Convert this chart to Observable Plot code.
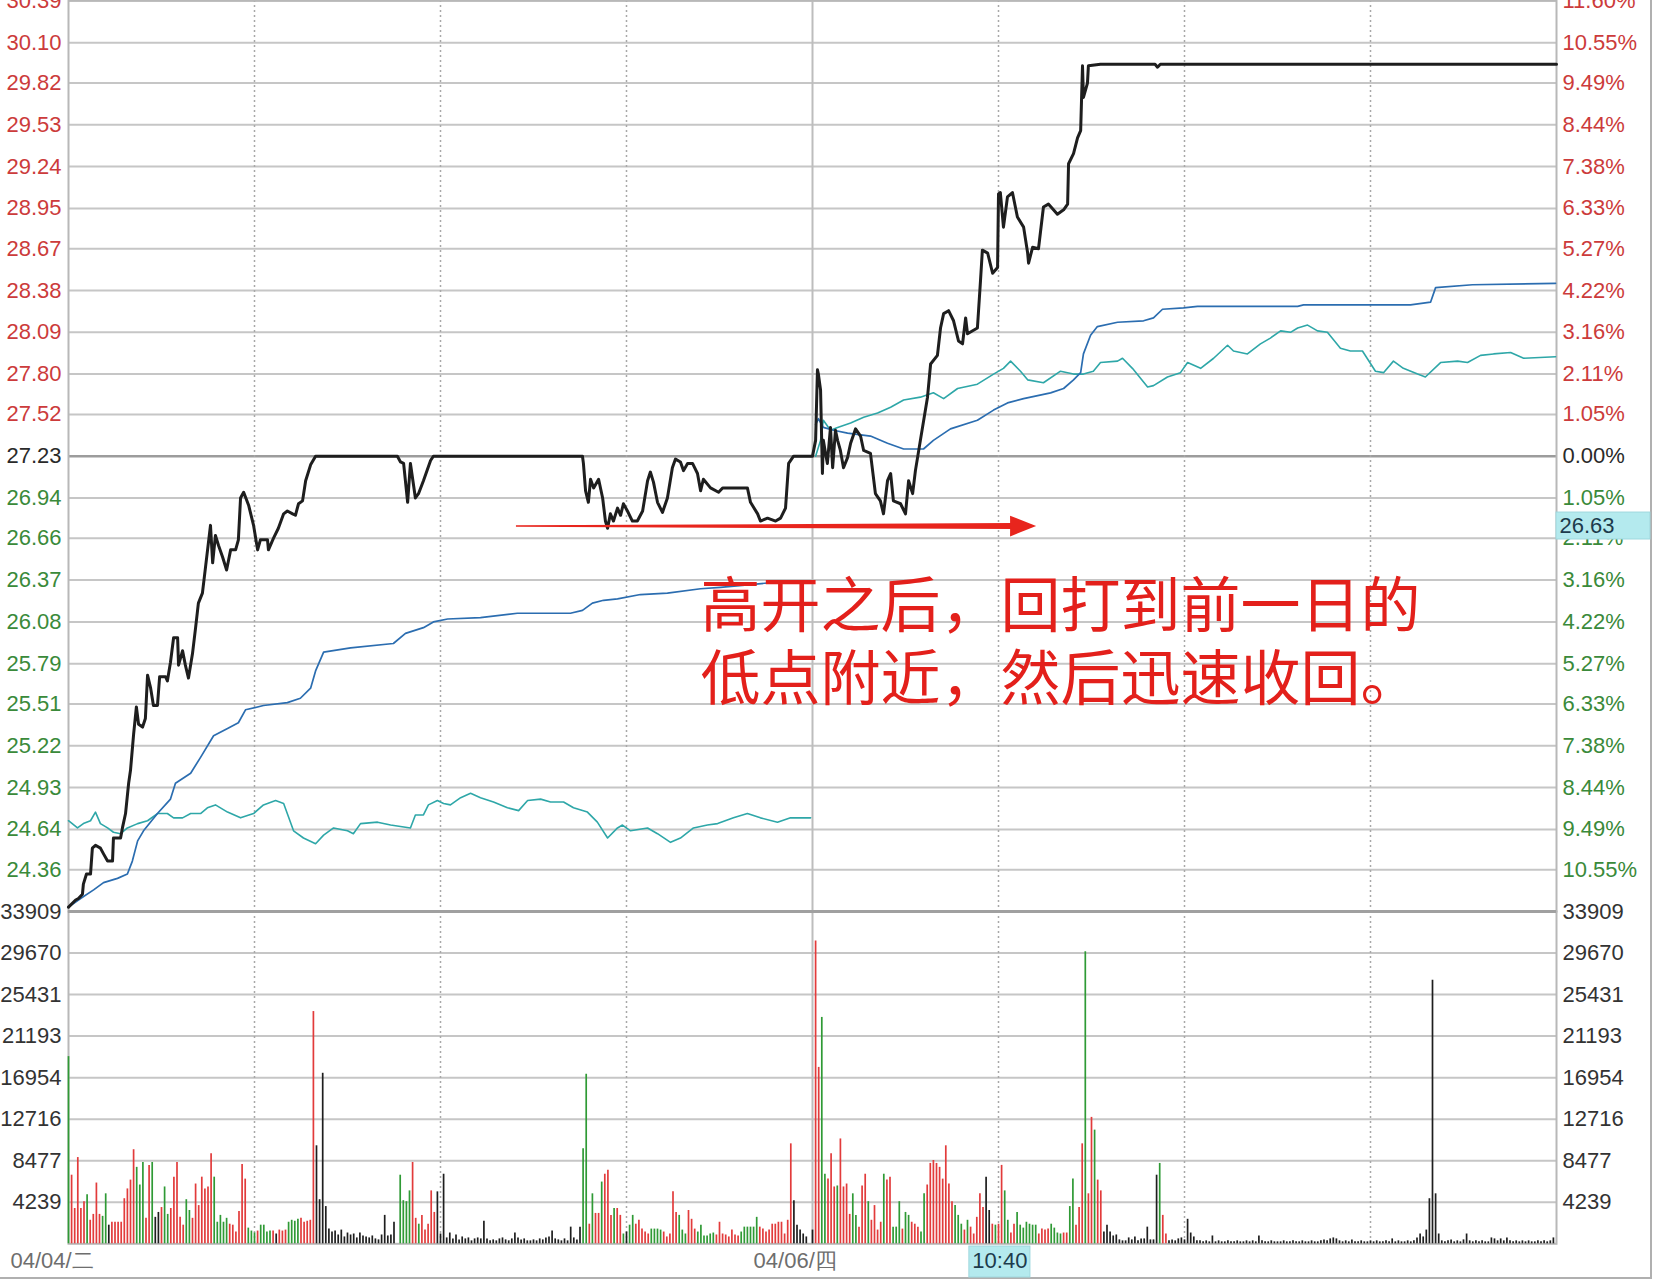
<!DOCTYPE html>
<html><head><meta charset="utf-8">
<script src="https://cdn.jsdelivr.net/npm/d3@7"></script>
<script src="https://cdn.jsdelivr.net/npm/@observablehq/plot@0.6"></script>
<style>
html,body{margin:0;padding:0;background:#fff;overflow:hidden;}
#wrap{position:relative;width:1650px;height:1277px;border-right:2px solid #b0b0b0;border-bottom:2px solid #b0b0b0;}
#wrap svg{position:absolute;left:0;overflow:visible;max-width:none !important;}
</style></head><body><div id="wrap"></div>
<script>
// ---------- DATA ----------
const priceLabels = ["30.39","30.10","29.82","29.53","29.24","28.95","28.67","28.38","28.09","27.80","27.52","27.23","26.94","26.66","26.37","26.08","25.79","25.51","25.22","24.93","24.64","24.36"];
const pctLabels = ["11.60%","10.55%","9.49%","8.44%","7.38%","6.33%","5.27%","4.22%","3.16%","2.11%","1.05%","0.00%","1.05%","2.11%","3.16%","4.22%","5.27%","6.33%","7.38%","8.44%","9.49%","10.55%"];
const volLabels = ["33909","29670","25431","21193","16954","12716","8477","4239"];
const prevClose = 27.23;
const priceMin = 24.07, priceMax = 30.393, volMax = 33909;
const hourTicks = [60,120,180,240,300,360,420];

// minute index (0-480 over two sessions), price
const priceLine = [[0,24.10],[2.3,24.15],[3.2,24.16],[4.5,24.19],[4.8,24.26],[5.8,24.33],[7.1,24.33],[7.7,24.51],[8.7,24.53],[10.3,24.51],[11.3,24.47],[12.6,24.42],[14.2,24.42],[14.5,24.58],[15.8,24.58],[16.8,24.58],[17.4,24.65],[18.4,24.75],[19.4,24.96],[20.0,25.05],[21.0,25.30],[21.9,25.49],[22.6,25.37],[23.9,25.35],[24.8,25.41],[25.5,25.71],[26.5,25.62],[27.4,25.50],[28.7,25.50],[29.4,25.70],[31.3,25.70],[31.9,25.67],[32.9,25.80],[33.9,25.97],[35.2,25.97],[35.5,25.78],[36.8,25.88],[37.7,25.78],[38.7,25.69],[40.0,25.86],[41.0,26.04],[41.9,26.21],[43.2,26.28],[44.2,26.46],[45.8,26.75],[46.5,26.49],[47.4,26.68],[48.4,26.61],[49.7,26.53],[51.0,26.44],[52.3,26.58],[53.9,26.58],[54.8,26.65],[55.5,26.94],[56.5,26.98],[58.1,26.89],[59.7,26.75],[61.0,26.58],[61.9,26.65],[64.2,26.65],[64.5,26.58],[66.1,26.66],[67.7,26.73],[69.4,26.83],[70.6,26.85],[72.3,26.83],[73.2,26.82],[74.2,26.90],[75.5,26.92],[76.5,27.06],[78.1,27.17],[79.7,27.23],[106.1,27.23],[107.1,27.19],[108.1,27.18],[109.4,26.91],[110.3,27.18],[111.9,26.94],[112.9,26.97],[114.5,27.06],[116.8,27.20],[117.7,27.23],[165.8,27.23],[166.1,27.18],[166.8,26.99],[167.7,26.91],[168.4,27.07],[169.4,27.01],[171.0,27.07],[172.3,26.94],[173.2,26.78],[173.9,26.73],[174.8,26.83],[175.8,26.78],[177.1,26.87],[178.1,26.82],[179.0,26.90],[180.3,26.85],[181.9,26.78],[183.5,26.78],[185.2,26.85],[186.8,27.06],[187.7,27.12],[188.7,27.05],[190.0,26.91],[191.6,26.84],[193.2,26.94],[194.8,27.15],[195.8,27.21],[197.4,27.19],[198.4,27.13],[199.7,27.18],[201.3,27.18],[202.9,27.11],[203.9,26.99],[204.8,27.07],[207.1,27.01],[209.7,26.98],[211.0,27.01],[212.9,27.01],[219.0,27.01],[220.0,26.91],[222.3,26.83],[223.2,26.78],[225.5,26.80],[228.1,26.78],[229.7,26.80],[231.3,26.87],[232.3,27.18],[233.9,27.23],[240,27.23],
[241.0,27.34],[241.6,27.83],[241.9,27.80],[242.6,27.69],[243.2,27.11],[243.5,27.34],[244.2,27.25],[244.8,27.18],[245.8,27.43],[246.5,27.15],[247.4,27.41],[248.1,27.34],[249.0,27.27],[250.0,27.15],[251.3,27.22],[252.3,27.32],[253.9,27.42],[255.5,27.37],[256.5,27.27],[258.7,27.25],[260.3,26.97],[261.9,26.92],[262.9,26.83],[264.2,27.06],[265.2,27.11],[266.1,26.92],[268.4,26.90],[270.0,26.83],[271.0,27.06],[272.3,26.97],[273.2,27.13],[274.8,27.34],[277.1,27.64],[278.1,27.87],[280.3,27.93],[281.3,28.12],[282.3,28.22],[283.9,28.24],[285.5,28.17],[287.1,28.03],[288.4,28.01],[289.4,28.19],[290.0,28.08],[293.2,28.12],[294.2,28.45],[294.8,28.66],[296.5,28.64],[298.1,28.50],[299.7,28.54],[300.0,29.05],[300.6,29.06],[301.6,28.82],[302.9,29.03],[304.5,29.06],[306.1,28.89],[308.1,28.82],[309.4,28.64],[309.7,28.57],[311.0,28.68],[312.9,28.67],[314.5,28.96],[316.1,28.98],[319.0,28.91],[321.0,28.94],[322.3,28.98],[322.6,29.26],[324.2,29.33],[325.5,29.44],[326.5,29.49],[327.1,29.94],[327.4,29.72],[328.7,29.82],[329.0,29.94],[332.9,29.95],[350.5,29.95],[351.3,29.93],[352.2,29.95],[480,29.95]];

const avgLine1 = [[0,24.10],[3.9,24.16],[8.1,24.22],[11.3,24.27],[15.8,24.30],[19.0,24.33],[20.6,24.42],[22.3,24.56],[24.2,24.63],[28.7,24.75],[32.9,24.85],[34.5,24.96],[39.4,25.03],[42.6,25.14],[46.8,25.29],[51.3,25.34],[54.8,25.38],[57.1,25.47],[62.9,25.50],[70.6,25.52],[74.8,25.55],[78.1,25.62],[79.7,25.74],[82.3,25.87],[91.0,25.90],[104.8,25.93],[108.7,26.00],[114.5,26.04],[117.7,26.08],[122.3,26.10],[132.9,26.11],[144.8,26.14],[161.9,26.14],[165.8,26.16],[169.0,26.21],[172.6,26.23],[177.1,26.24],[184.5,26.27],[193.2,26.28],[203.9,26.31],[210.3,26.32],[225.5,26.35],[239.4,26.35]];
const avgLine2 = [[241.0,27.45],[241.9,27.49],[243.5,27.43],[246.8,27.41],[251.3,27.39],[258.7,27.37],[264.2,27.32],[269.4,27.28],[275.8,27.28],[279.0,27.34],[284.5,27.42],[293.2,27.48],[298.4,27.55],[302.9,27.60],[308.1,27.63],[316.8,27.67],[321.0,27.70],[324.2,27.76],[326.5,27.81],[327.4,27.94],[329.7,28.07],[331.9,28.13],[338.4,28.16],[346.8,28.17],[350.0,28.19],[352.9,28.25],[359.7,28.26],[364.2,28.27],[396.5,28.27],[398.4,28.28],[432.9,28.28],[439.4,28.30],[441.0,28.40],[452.9,28.42],[479.7,28.43]];

const idxLine1 = [[0,24.70],[2.9,24.65],[4.8,24.68],[7.1,24.70],[8.7,24.76],[10.3,24.68],[12.6,24.65],[14.5,24.62],[16.8,24.61],[19.0,24.65],[22.3,24.68],[25.5,24.70],[28.7,24.75],[31.9,24.75],[33.9,24.72],[36.8,24.72],[39.4,24.75],[42.6,24.75],[44.8,24.79],[47.4,24.81],[51.3,24.76],[55.5,24.72],[59.7,24.75],[62.9,24.81],[66.8,24.84],[69.4,24.82],[72.6,24.63],[75.8,24.58],[79.7,24.54],[82.3,24.60],[85.5,24.65],[90.0,24.63],[91.9,24.61],[94.2,24.68],[99.7,24.69],[103.9,24.67],[110.3,24.65],[111.9,24.74],[114.5,24.74],[116.1,24.81],[119.0,24.84],[121.0,24.82],[123.2,24.81],[126.5,24.86],[129.7,24.89],[132.9,24.86],[137.1,24.83],[141.6,24.79],[145.2,24.77],[148.1,24.84],[152.3,24.85],[155.5,24.83],[159.7,24.83],[162.9,24.79],[167.4,24.76],[170.6,24.69],[173.9,24.58],[177.1,24.65],[178.7,24.67],[181.3,24.63],[186.8,24.65],[190.0,24.61],[194.2,24.55],[197.4,24.58],[201.6,24.65],[206.1,24.67],[209.4,24.68],[214.5,24.72],[219.0,24.75],[223.2,24.72],[228.7,24.69],[232.9,24.72],[239.4,24.72]];
const idxLine2 = [[241.0,27.23],[242.6,27.34],[243.5,27.48],[245.8,27.41],[248.1,27.43],[252.3,27.46],[256.5,27.50],[261.0,27.53],[265.2,27.57],[269.4,27.62],[274.8,27.64],[279.0,27.67],[282.3,27.63],[286.8,27.70],[293.2,27.73],[298.4,27.80],[301.6,27.84],[303.9,27.89],[307.1,27.82],[309.4,27.76],[314.5,27.74],[320.0,27.82],[324.2,27.80],[327.4,27.80],[330.6,27.82],[332.9,27.88],[338.4,27.89],[340.0,27.91],[343.2,27.84],[348.1,27.71],[350.0,27.72],[354.5,27.78],[358.7,27.81],[361.0,27.88],[365.2,27.84],[369.4,27.91],[373.9,28.00],[375.8,27.96],[380.3,27.94],[384.5,28.01],[387.7,28.05],[391.0,28.10],[394.2,28.09],[396.5,28.12],[399.7,28.14],[402.9,28.10],[406.1,28.09],[410.3,27.98],[413.5,27.96],[417.4,27.96],[421.6,27.82],[424.2,27.81],[427.4,27.89],[430.6,27.84],[435.2,27.80],[437.7,27.78],[442.6,27.88],[448.1,27.89],[451.3,27.88],[455.5,27.93],[459.7,27.94],[465.2,27.95],[469.4,27.91],[479.7,27.92]];

// volume bars: [minute, volume, colour code r/g/k]
const volBars = [[0,19100,"g"],[1,7000,"r"],[2,3600,"r"],[3,8800,"r"],[4,3600,"r"],[5,4300,"r"],[6,5000,"g"],[7,2400,"r"],[8,3000,"r"],[9,6200,"r"],[10,3000,"r"],[11,2800,"g"],[12,5100,"g"],[13,1900,"k"],[14,2200,"r"],[15,2200,"r"],[16,2200,"r"],[17,2200,"r"],[18,4600,"r"],[19,5600,"r"],[20,6500,"r"],[21,9600,"r"],[22,7800,"g"],[23,6000,"g"],[24,8300,"g"],[25,2600,"r"],[26,8000,"r"],[27,8300,"g"],[28,2700,"k"],[29,3200,"k"],[30,3700,"r"],[31,5800,"g"],[32,3000,"g"],[33,3600,"r"],[34,6800,"r"],[35,8300,"r"],[36,2700,"r"],[37,1900,"r"],[38,4500,"g"],[39,3400,"g"],[40,2600,"r"],[41,6100,"r"],[42,3900,"r"],[43,6800,"r"],[44,5600,"r"],[45,5800,"r"],[46,9200,"r"],[47,6800,"g"],[48,2200,"g"],[49,2900,"g"],[50,2200,"g"],[51,2600,"g"],[52,2000,"r"],[53,1900,"r"],[54,1200,"r"],[55,3300,"r"],[56,8100,"r"],[57,6600,"r"],[58,1600,"g"],[59,1300,"g"],[60,1100,"g"],[61,1300,"r"],[62,1900,"g"],[63,1900,"g"],[64,1200,"g"],[65,1300,"g"],[66,1300,"r"],[67,1000,"k"],[68,1400,"r"],[69,1300,"r"],[70,1400,"r"],[71,2200,"g"],[72,2400,"g"],[73,2300,"g"],[74,2500,"g"],[75,2600,"r"],[76,2200,"r"],[77,2300,"r"],[78,2400,"r"],[79,23700,"r"],[80,10000,"k"],[81,4500,"k"],[82,17400,"k"],[83,3800,"k"],[84,1500,"k"],[85,1200,"k"],[86,1300,"k"],[87,900,"k"],[88,1400,"k"],[89,700,"k"],[90,1100,"k"],[91,900,"k"],[92,1000,"k"],[93,600,"k"],[94,1100,"k"],[95,800,"k"],[96,700,"k"],[97,600,"k"],[98,800,"k"],[99,500,"k"],[100,400,"k"],[101,900,"k"],[102,2900,"k"],[103,800,"k"],[104,900,"k"],[105,2200,"k"],[107,7000,"g"],[108,4400,"g"],[109,4300,"g"],[110,5400,"g"],[111,8300,"r"],[112,2600,"r"],[113,2000,"g"],[114,2900,"r"],[115,1400,"r"],[116,2000,"r"],[117,5400,"r"],[118,3200,"r"],[119,5300,"k"],[120,1000,"k"],[121,7100,"k"],[122,600,"k"],[123,1100,"k"],[124,500,"k"],[125,900,"k"],[126,400,"k"],[127,700,"k"],[128,500,"k"],[129,600,"k"],[130,300,"k"],[131,500,"k"],[132,600,"k"],[133,500,"k"],[134,2300,"k"],[135,500,"k"],[136,300,"k"],[137,400,"k"],[138,300,"k"],[139,500,"k"],[140,600,"k"],[141,400,"k"],[142,300,"k"],[143,500,"k"],[144,1100,"k"],[145,600,"k"],[146,400,"k"],[147,500,"k"],[148,300,"k"],[149,300,"k"],[150,400,"k"],[151,300,"k"],[152,500,"k"],[153,400,"k"],[154,600,"k"],[155,700,"k"],[156,1300,"k"],[157,500,"k"],[158,400,"k"],[159,300,"k"],[160,500,"k"],[161,300,"k"],[162,1700,"k"],[163,600,"k"],[164,400,"k"],[165,1700,"k"],[166,9700,"g"],[167,17300,"g"],[168,2000,"r"],[169,5100,"g"],[170,3100,"r"],[171,3100,"r"],[172,6300,"g"],[173,7100,"r"],[174,7500,"r"],[175,2900,"r"],[176,3600,"g"],[177,3600,"r"],[178,2900,"r"],[179,1000,"g"],[180,1200,"k"],[181,1900,"g"],[182,2900,"g"],[183,2000,"r"],[184,2400,"r"],[185,1500,"r"],[186,1200,"r"],[187,1000,"r"],[188,1500,"g"],[189,1500,"g"],[190,1500,"g"],[191,1400,"g"],[192,1200,"r"],[193,700,"r"],[194,1000,"r"],[195,5300,"r"],[196,3200,"r"],[197,2900,"g"],[198,1400,"g"],[199,1000,"g"],[200,3400,"r"],[201,2500,"r"],[202,1500,"r"],[203,1200,"g"],[204,1900,"g"],[205,800,"g"],[206,800,"g"],[207,1000,"g"],[208,1100,"g"],[209,900,"r"],[210,2200,"r"],[211,1000,"r"],[212,900,"r"],[213,700,"r"],[214,1400,"r"],[215,900,"r"],[216,800,"r"],[217,1200,"g"],[218,1700,"g"],[219,1700,"g"],[220,1700,"g"],[221,1700,"g"],[222,2700,"g"],[223,1700,"r"],[224,1500,"r"],[225,1200,"r"],[226,1400,"r"],[227,2000,"r"],[228,2000,"r"],[229,2200,"r"],[230,2200,"r"],[231,1000,"r"],[232,2400,"r"],[233,10200,"r"],[234,4400,"k"],[235,1900,"k"],[236,1400,"k"],[237,1000,"k"],[238,700,"k"],
[240,1400,"k"],[241,30900,"r"],[242,18000,"r"],[243,23100,"g"],[244,7100,"g"],[245,6600,"r"],[246,9200,"r"],[247,5800,"r"],[248,5900,"g"],[249,10700,"r"],[250,5800,"r"],[251,6100,"r"],[252,3000,"r"],[253,5100,"g"],[254,2900,"g"],[255,1700,"r"],[256,5900,"r"],[257,7100,"r"],[258,4300,"g"],[259,2400,"r"],[260,3900,"r"],[261,1400,"r"],[262,2200,"r"],[263,7100,"g"],[264,6500,"r"],[265,6800,"r"],[266,1700,"g"],[267,1700,"g"],[268,4300,"g"],[269,1500,"r"],[270,3200,"g"],[271,2900,"g"],[272,2200,"r"],[273,2000,"r"],[274,1700,"r"],[275,1200,"g"],[276,5100,"g"],[277,6000,"r"],[278,8200,"r"],[279,8500,"r"],[280,8200,"r"],[281,7800,"r"],[282,6600,"r"],[283,10000,"r"],[284,6100,"r"],[285,4300,"r"],[286,3900,"g"],[287,2900,"g"],[288,2000,"g"],[289,1400,"r"],[290,2400,"g"],[291,1700,"r"],[292,1000,"r"],[293,2700,"r"],[294,5100,"r"],[295,3700,"r"],[296,6800,"k"],[297,3400,"k"],[298,2000,"r"],[299,1900,"g"],[300,2000,"r"],[301,8000,"r"],[302,5400,"g"],[303,2400,"g"],[304,1100,"r"],[305,2000,"r"],[306,3200,"g"],[307,1900,"g"],[308,1600,"g"],[309,2200,"g"],[310,2000,"g"],[311,1900,"g"],[312,1900,"g"],[313,1000,"r"],[314,1500,"r"],[315,1400,"r"],[316,1500,"r"],[317,2000,"g"],[318,1600,"g"],[319,1100,"g"],[320,1000,"g"],[321,1100,"r"],[322,1100,"r"],[323,3800,"g"],[324,6600,"g"],[325,1900,"r"],[326,3700,"r"],[327,10200,"r"],[328,29800,"g"],[329,5100,"r"],[330,12900,"r"],[331,11600,"g"],[332,6500,"r"],[333,5400,"r"],[334,1200,"k"],[335,1900,"k"],[336,1200,"k"],[337,800,"k"],[338,900,"k"],[339,400,"k"],[340,300,"k"],[341,300,"k"],[342,600,"k"],[343,400,"k"],[344,700,"k"],[345,300,"k"],[346,500,"k"],[347,500,"k"],[348,1700,"k"],[349,400,"k"],[350,400,"k"],[351,7000,"k"],[352,8200,"g"],[353,2900,"r"],[354,1000,"r"],[355,300,"k"],[356,400,"k"],[357,300,"k"],[358,500,"k"],[359,600,"k"],[360,400,"k"],[361,2500,"k"],[362,1100,"k"],[363,700,"k"],[364,300,"k"],[365,300,"k"],[366,200,"k"],[367,300,"k"],[368,200,"k"],[369,800,"k"]];
// quiet afternoon volume, minutes 370..479
const quietVol = [200,300,200,200,300,200,200,300,200,200,300,200,300,200,800,300,200,200,300,200,200,200,300,200,200,300,200,200,300,200,200,300,200,200,300,400,300,500,600,500,300,200,300,200,400,200,200,300,200,200,300,200,300,200,200,300,200,500,200,300,200,200,300,200,300,600,1000,700,1400,4600,26900,5100,1000,300,200,300,400,200,300,200,400,1000,300,200,300,200,300,200,200,600,500,300,500,300,600,300,200,300,200,300,200,300,200,200,300,200,300,200,300,600];

const dateLabels = [{t:-18.7, text:"04/04/二"},{t:221, text:"04/06/四"}];
const cursorTime = {t1:290.6, t2:310.3, text:"10:40"};
const cursorPrice = {p1:26.652, p2:26.839, text:"26.63"};
const noteLines = [{t:203.9, p:26.18, text:"高开之后，回打到前一日的"},{t:203.9, p:25.67, text:"低点附近，然后迅速收回。"}];
const arrowShaft = [{t:144.5, lo:26.737, hi:26.747},{t:304.5, lo:26.721, hi:26.763}];
const arrowHead = [{t:303.9, lo:26.670, hi:26.814},{t:312.3, lo:26.742, hi:26.742}];

// ---------- DRAW ----------
const RED = "#cc3b3b", GREEN = "#3a8a3a", DARK = "#2a2a2a";
const labelColor = v => Math.abs(v - prevClose) < 1e-6 ? DARK : (v > prevClose ? RED : GREEN);
const priceTicks = priceLabels.map((s, i) => ({v: parseFloat(s), label: s, pct: pctLabels[i]}));
const volTicks = volLabels.map(s => ({v: +s, label: s}));
const barColor = {r: "#e23b3b", g: "#2f9a35", k: "#1e1e1e"};
const allVol = volBars.map(d => ({t: d[0], v: d[1], c: barColor[d[2]]}))
  .concat(quietVol.map((v, i) => ({t: 370 + i, v, c: barColor.k})));
const FONT = "'Liberation Sans', Arial, sans-serif";
const common = {
  width: 1658, marginLeft: 68, marginRight: 102, marginTop: 0,
  x: {domain: [0, 480], axis: null},
  color: {type: "identity"},
  style: {background: "transparent", overflow: "visible", fontFamily: FONT, maxWidth: "none"}
};
const vGrid = [
  Plot.ruleX(hourTicks.filter(h => h !== 240), {x: d => d, stroke: "#a8a8a8", strokeWidth: 1.5, strokeDasharray: "2,3"}),
  Plot.ruleX([240], {x: d => d, stroke: "#bdbdbd", strokeWidth: 2})
];

const pricePlot = Plot.plot({
  ...common, height: 912, marginBottom: 1,
  y: {domain: [priceMin, priceMax], axis: null},
  marks: [
    Plot.ruleY(priceTicks, {y: "v", stroke: d => d.v === prevClose ? "#9c9c9c" : "#c6c6c6", strokeWidth: d => d.v === prevClose ? 2.5 : 2}),
    ...vGrid,
    Plot.ruleY([priceMin], {y: d => d, stroke: "#a0a0a0", strokeWidth: 3}),
    Plot.frame({stroke: "#b8b8b8", strokeWidth: 2}),
    Plot.line(idxLine1, {x: d => d[0], y: d => d[1], stroke: "#2ea7a8", strokeWidth: 1.6}),
    Plot.line(idxLine2, {x: d => d[0], y: d => d[1], stroke: "#2ea7a8", strokeWidth: 1.6}),
    Plot.line(avgLine1, {x: d => d[0], y: d => d[1], stroke: "#2b6db0", strokeWidth: 1.7}),
    Plot.line(avgLine2, {x: d => d[0], y: d => d[1], stroke: "#2b6db0", strokeWidth: 1.7}),
    Plot.line(priceLine, {x: d => d[0], y: d => d[1], stroke: "#1e1e1e", strokeWidth: 3, strokeLinejoin: "round"}),
    Plot.areaY(arrowShaft, {x: "t", y1: "lo", y2: "hi", fill: "#e8251d"}),
    Plot.areaY(arrowHead, {x: "t", y1: "lo", y2: "hi", fill: "#e8251d"}),
    Plot.text(noteLines, {x: "t", y: "p", text: "text", textAnchor: "start", lineAnchor: "middle", fill: "#e3201b", fontSize: 60, fontFamily: "'Noto Sans CJK SC', sans-serif"}),
    Plot.text(priceTicks, {y: "v", text: "label", frameAnchor: "left", lineAnchor: "middle", dx: -7, textAnchor: "end", fill: d => labelColor(d.v), fontSize: 22}),
    Plot.text(priceTicks, {y: "v", text: "pct", frameAnchor: "right", lineAnchor: "middle", dx: 6, textAnchor: "start", fill: d => labelColor(d.v), fontSize: 22}),
    Plot.rect([cursorPrice], {x1: 480, x2: 510.3, y1: "p1", y2: "p2", fill: "#b4eaee", stroke: "#9fd8de"}),
    Plot.text([cursorPrice], {x: 480, y: d => (d.p1 + d.p2) / 2, text: "text", textAnchor: "start", lineAnchor: "middle", dx: 3, fill: "#1d3b4c", fontSize: 22})
  ]
});

const volPlot = Plot.plot({
  ...common, height: 369, marginBottom: 36.7,
  y: {domain: [0, volMax], axis: null},
  marks: [
    Plot.ruleY(volTicks.slice(1), {y: "v", stroke: "#c6c6c6", strokeWidth: 2}),
    ...vGrid,
    Plot.frame({stroke: "#b8b8b8", strokeWidth: 2}),
    Plot.ruleY([volMax], {y: d => d, stroke: "#a0a0a0", strokeWidth: 3}),
    Plot.ruleX(allVol, {x: "t", y1: 0, y2: "v", stroke: "c", strokeWidth: 1.7}),
    Plot.text(volTicks, {y: "v", text: "label", frameAnchor: "left", lineAnchor: "middle", dx: -7, textAnchor: "end", fill: "#333", fontSize: 22}),
    Plot.text(volTicks, {y: "v", text: "label", frameAnchor: "right", lineAnchor: "middle", dx: 6, textAnchor: "start", fill: "#333", fontSize: 22}),
    Plot.text(dateLabels, {x: "t", text: "text", frameAnchor: "bottom", lineAnchor: "middle", dy: 17, textAnchor: "start", fill: "#6e6e6e", fontSize: 22}),
    Plot.rect([cursorTime], {x1: "t1", x2: "t2", y1: -280, y2: -3440, fill: "#b4eaee", stroke: "#9fd8de"}),
    Plot.text([cursorTime], {x: d => (d.t1 + d.t2) / 2, text: "text", frameAnchor: "bottom", lineAnchor: "middle", dy: 17, fill: "#1d3b4c", fontSize: 22})
  ]
});

const wrap = document.getElementById("wrap");
pricePlot.style.top = "0px";
volPlot.style.top = "911px";
wrap.appendChild(pricePlot);
wrap.appendChild(volPlot);
</script></body></html>
